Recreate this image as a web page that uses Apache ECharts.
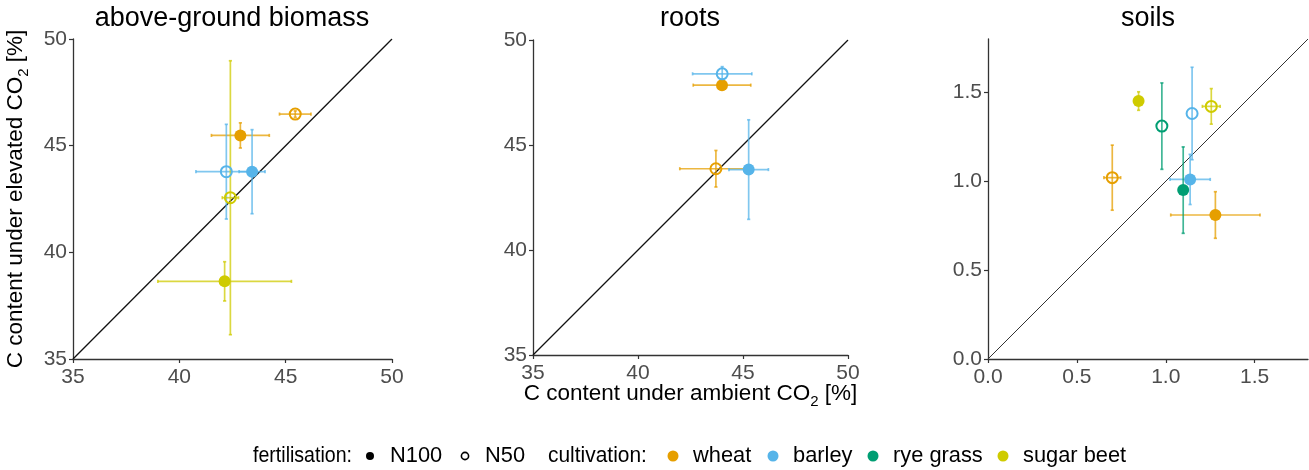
<!DOCTYPE html>
<html>
<head>
<meta charset="utf-8">
<title>C content under ambient and elevated CO2</title>
<script src="https://cdn.jsdelivr.net/npm/echarts@6/dist/echarts.min.js"></script>
<style>
  html, body { margin: 0; padding: 0; background: #fff; }
  #chart { width: 1309px; height: 470px; }
</style>
</head>
<body>
<div id="chart"></div>
<script>
// Panels and categories
const panelTitles = ['above-ground biomass', 'roots', 'soils'];
const crops = ['wheat', 'barley', 'rye grass', 'sugar beet'];
const cropColors = ['#E69F00', '#56B4E9', '#009E73', '#CFCB00'];
const fertLevels = ['N100', 'N50'];

// Rows: [cultivation, fertilisation, ambient mean, ambient SE, elevated mean, elevated SE]
const biomassRows = [
  ['wheat',      'N100', 42.87, 1.36, 45.48, 0.59],
  ['wheat',      'N50',  45.45, 0.74, 46.48, 0.15],
  ['barley',     'N100', 43.42, 0.61, 43.78, 1.97],
  ['barley',     'N50',  42.21, 1.43, 43.78, 2.22],
  ['sugar beet', 'N100', 42.13, 3.14, 38.64, 0.92],
  ['sugar beet', 'N50',  42.40, 0.38, 42.56, 6.42]
];
const rootsRows = [
  ['wheat',  'N100', 44.00, 1.37, 47.85, 0.12],
  ['wheat',  'N50',  43.71, 1.72, 43.87, 0.87],
  ['barley', 'N100', 45.27, 0.94, 43.83, 2.37],
  ['barley', 'N50',  44.01, 1.41, 48.39, 0.34]
];
const soilsRows = [
  ['wheat',      'N100', 1.279, 0.251, 0.810, 0.131],
  ['wheat',      'N50',  0.699, 0.047, 1.020, 0.183],
  ['barley',     'N100', 1.137, 0.113, 1.010, 0.141],
  ['barley',     'N50',  1.148, 0.000, 1.381, 0.260],
  ['rye grass',  'N100', 1.098, 0.000, 0.950, 0.243],
  ['rye grass',  'N50',  0.978, 0.000, 1.310, 0.243],
  ['sugar beet', 'N100', 0.847, 0.000, 1.451, 0.052],
  ['sugar beet', 'N50',  1.256, 0.050, 1.421, 0.100]
];

// Axis ranges and tick values
const plantRange = [35, 50];
const plantTicks = [35, 40, 45, 50];
const soilRange = [0, 1.8];
const soilTicks = [0, 0.5, 1.0, 1.5];

const panelRows = [biomassRows, rootsRows, soilsRows];
const panelRanges = [plantRange, plantRange, soilRange];
const panelTicks = [plantTicks, plantTicks, soilTicks];
const panelDigits = [0, 0, 1];

const FONT = '"Liberation Sans", Arial, sans-serif';

const grids = [
  { left: 73,  top: 39, width: 319, height: 320 },
  { left: 533, top: 40, width: 315, height: 315 },
  { left: 988, top: 39, width: 320, height: 320 }
];

function colorOf(crop) { return cropColors[crops.indexOf(crop)]; }

function makeAxis(i, dim) {
  const range = panelRanges[i];
  const ticks = panelTicks[i];
  const digits = panelDigits[i];
  return {
    type: 'value',
    gridIndex: i,
    min: range[0],
    max: range[1],
    interval: ticks[1] - ticks[0],
    splitLine: { show: false },
    axisLine: { show: true, onZero: false, lineStyle: { color: '#333', width: 1.3 } },
    axisTick: { show: true, length: 4, customValues: ticks, lineStyle: { color: '#333', width: 1.2 } },
    axisLabel: {
      customValues: ticks,
      fontSize: 21,
      fontFamily: FONT,
      color: '#4D4D4D',
      margin: dim === 'x' ? 8 : 6,
      formatter: v => Number(v).toFixed(digits)
    }
  };
}

const subRich = { sub: { fontSize: 15, fontFamily: FONT, color: '#000', verticalAlign: 'bottom', lineHeight: 16 } };

const xAxes = [0, 1, 2].map(i => makeAxis(i, 'x'));
const yAxes = [0, 1, 2].map(i => makeAxis(i, 'y'));

xAxes[1].name = 'C content under ambient CO{sub|2} [%]';
xAxes[1].nameLocation = 'middle';
xAxes[1].nameGap = 24;
xAxes[1].nameMoveOverlap = false;
xAxes[1].nameTextStyle = { fontSize: 22.5, fontFamily: FONT, color: '#000', lineHeight: 30, rich: subRich };

yAxes[0].name = 'C content under elevated CO{sub|2} [%]';
yAxes[0].nameLocation = 'middle';
yAxes[0].nameRotate = 90;
yAxes[0].nameGap = 42;
yAxes[0].nameMoveOverlap = false;
yAxes[0].nameTextStyle = { fontSize: 22.5, fontFamily: FONT, color: '#000', lineHeight: 30, rich: subRich };

const series = [];
panelRows.forEach((rows, i) => {
  const range = panelRanges[i];
  // 1:1 reference line
  series.push({
    type: 'line',
    xAxisIndex: i, yAxisIndex: i,
    data: [[range[0], range[0]], [range[1], range[1]]],
    symbol: 'none',
    silent: true,
    lineStyle: { color: i === 2 ? '#333' : '#111', width: i === 2 ? 1 : 1.3 },
    z: 1
  });
  // error bars in both directions
  series.push({
    type: 'custom',
    xAxisIndex: i, yAxisIndex: i,
    data: rows.map(r => [r[2], r[4], r[3], r[5]]),
    encode: { x: 0, y: 1 },
    silent: true,
    z: 2,
    renderItem: function (params, api) {
      const row = rows[params.dataIndex];
      const x = api.value(0), y = api.value(1), ex = api.value(2), ey = api.value(3);
      const color = colorOf(row[0]);
      const style = { stroke: color, lineWidth: 1.7, opacity: 0.75 };
      const cap = 1.6;
      const children = [];
      if (ex > 0) {
        const l = api.coord([x - ex, y]), r = api.coord([x + ex, y]);
        children.push({ type: 'line', shape: { x1: l[0], y1: l[1], x2: r[0], y2: r[1] }, style: style });
        children.push({ type: 'line', shape: { x1: l[0], y1: l[1] - cap, x2: l[0], y2: l[1] + cap }, style: style });
        children.push({ type: 'line', shape: { x1: r[0], y1: r[1] - cap, x2: r[0], y2: r[1] + cap }, style: style });
      }
      if (ey > 0) {
        const t = api.coord([x, y + ey]), b = api.coord([x, y - ey]);
        children.push({ type: 'line', shape: { x1: t[0], y1: t[1], x2: b[0], y2: b[1] }, style: style });
        children.push({ type: 'line', shape: { x1: t[0] - cap, y1: t[1], x2: t[0] + cap, y2: t[1] }, style: style });
        children.push({ type: 'line', shape: { x1: b[0] - cap, y1: b[1], x2: b[0] + cap, y2: b[1] }, style: style });
      }
      return { type: 'group', children: children };
    }
  });
  // means: filled = N100, open = N50
  series.push({
    type: 'scatter',
    xAxisIndex: i, yAxisIndex: i,
    z: 3,
    data: rows.map(r => {
      const c = colorOf(r[0]);
      const open = r[1] === 'N50';
      return {
        value: [r[2], r[4]],
        symbolSize: open ? 11 : 12,
        itemStyle: open
          ? { color: 'rgba(255,255,255,0)', borderColor: c, borderWidth: 2, opacity: 1 }
          : { color: c, borderWidth: 0, opacity: 1 }
      };
    })
  });
});

// Panel titles and legend
const graphics = [];
const titleX = [232, 690, 1148];
panelTitles.forEach((t, i) => {
  graphics.push({
    type: 'text', x: titleX[i], y: 19,
    style: { text: t, fontSize: 27, fontFamily: FONT, fill: '#000',
             align: 'center', verticalAlign: 'middle', textAlign: 'center', textVerticalAlign: 'middle' }
  });
});

const legendY = 456;
function legendText(text, x, align, sx) {
  graphics.push({
    type: 'text', x: x, y: legendY, scaleX: sx || 0.97, scaleY: 1,
    style: { text: text, fontSize: 22.5, fontFamily: FONT, fill: '#000',
             align: align || 'left', verticalAlign: 'middle',
             textAlign: align || 'left', textVerticalAlign: 'middle' }
  });
}
function legendDot(x, fill, stroke, r) {
  graphics.push({
    type: 'circle', shape: { cx: x, cy: legendY, r: r },
    style: stroke ? { fill: 'rgba(0,0,0,0)', stroke: stroke, lineWidth: 1.6 } : { fill: fill }
  });
}
legendText('fertilisation:', 352, 'right', 0.87);
legendDot(370, '#000', null, 4);
legendText(fertLevels[0], 390);
legendDot(465, null, '#000', 3.6);
legendText(fertLevels[1], 485);
legendText('cultivation:', 548, 'left', 0.93);
const cropDotX = [673, 773, 873, 1003];
crops.forEach((c, k) => {
  legendDot(cropDotX[k], cropColors[k], null, 5.5);
  legendText(c, cropDotX[k] + 20);
});

const chart = echarts.init(document.getElementById('chart'), null, { renderer: 'canvas' });
chart.setOption({
  backgroundColor: '#fff',
  animation: false,
  grid: grids,
  xAxis: xAxes,
  yAxis: yAxes,
  series: series,
  graphic: graphics
});
</script>
</body>
</html>
